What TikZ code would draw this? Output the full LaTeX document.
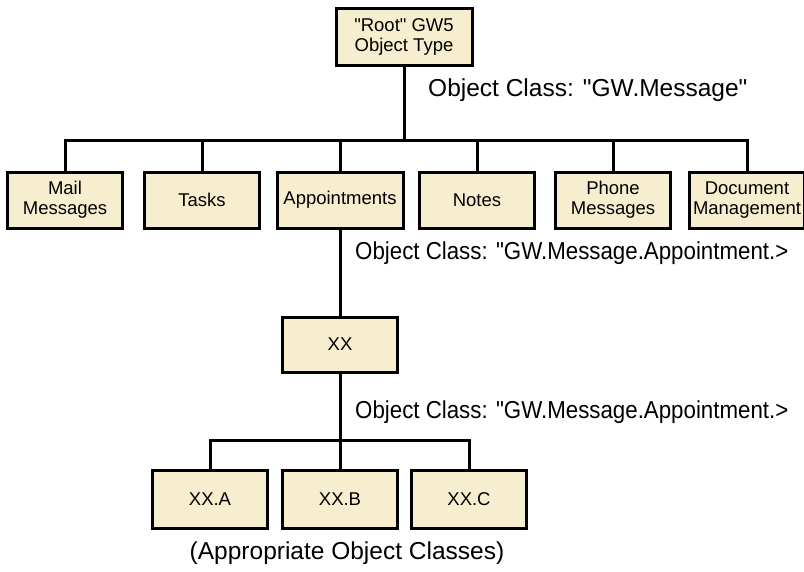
\documentclass[tikz,border=0pt]{standalone}
\usepackage{fontspec}
\setmainfont{Liberation Sans}
\usetikzlibrary{positioning,calc}
\definecolor{boxfill}{HTML}{F7EECF}
\newcommand*{\bx}{\fontsize{18.5}{20}\selectfont}
\newcommand*{\lb}{\fontsize{24.5}{27}\selectfont}
\newcommand*{\q}{\textquotedbl}
\tikzset{
  gwbox/.style={draw=black,line width=3pt,fill=boxfill,align=center,
    inner sep=0pt,minimum width=115pt,minimum height=56pt,font=\bx},
  wire/.style={line width=3pt},
  note/.style={anchor=west,inner sep=0pt,font=\lb}
}

\begin{document}
\begin{tikzpicture}[x=1pt,y=-1pt]
\useasboundingbox (0,0) rectangle (804,571);

\node[gwbox,minimum width=136pt,minimum height=57pt] (root) at (404,36.5) {\q Root\q{} GW5\\Object Type};
\node[note] (lbl1) at (428,90) {Object Class: \q GW.Message\q};

\coordinate (bus1) at (404,140);
\node[gwbox] (mail) at (65,200) {Mail\\Messages};
\node[gwbox] (tasks) at (202,200) {Tasks};
\node[gwbox,minimum width=126pt] (appt) at (340,200) {Appointments};
\node[gwbox] (notes) at (477,200) {Notes};
\node[gwbox] (phone) at (613,200) {Phone\\Messages};
\node[gwbox] (doc) at (747,200) {Document\\Management};

\draw[wire] (root.south) -- (bus1);
\draw[wire] (mail.north) |- (bus1) -| (doc.north);
\foreach \n in {tasks,appt,notes,phone}
  \draw[wire] (\n.north) -- (\n.north |- bus1);

\node[note,xscale=.91] (lbl2) at (355,253) {Object Class: \q GW.Message.Appointment.>};

\node[gwbox,minimum height=55pt] (xx) at (340,344.5) {XX};
\draw[wire] (appt.south) -- (xx.north);

\node[note,xscale=.91] (lbl3) at (355,412) {Object Class: \q GW.Message.Appointment.>};

\coordinate (bus2) at (340,440);
\node[gwbox,minimum height=58pt] (xxa) at (210,499) {XX.A};
\node[gwbox,minimum height=58pt] (xxb) at (340,499) {XX.B};
\node[gwbox,minimum height=58pt] (xxc) at (469,499) {XX.C};

\draw[wire] (xx.south) -- (xxb.north);
\draw[wire] (xxa.north) |- (bus2) -| (xxc.north);

\node[font=\lb,inner sep=0pt] (bottom) at (347,553) {(Appropriate Object Classes)};
\end{tikzpicture}
\end{document}
